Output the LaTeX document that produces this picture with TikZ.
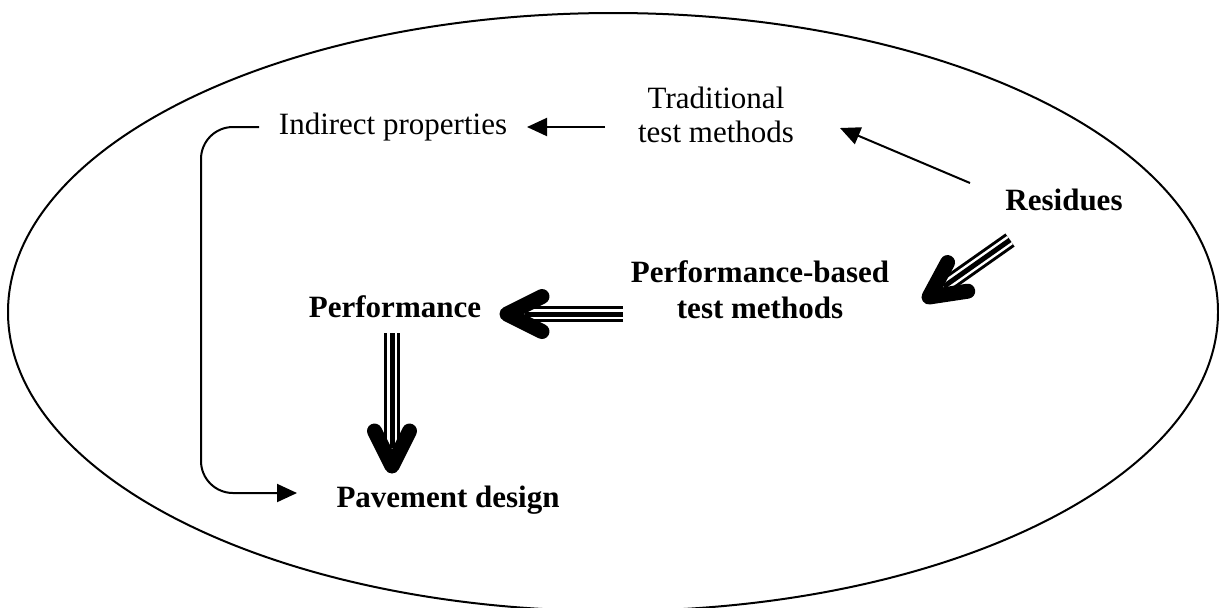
\documentclass[tikz,border=0pt]{standalone}
\usepackage{fontspec}
\setmainfont{Liberation Serif}
\usetikzlibrary{arrows.meta,calc}

\begin{document}
\begin{tikzpicture}[x=0.5pt,y=-0.5pt,>={Triangle[length=10pt,width=9pt]},line width=1pt]
              \tikzstyle{txt}=[align=center,inner sep=0pt,font=\fontsize{15.5}{17}\selectfont]
              \tikzstyle{bold}=[txt,font=\fontsize{15.5}{18}\selectfont\bfseries]
              \tikzstyle{shaft}=[line width=8pt]
              \tikzstyle{gap}=[line width=5pt,white]
              \tikzstyle{core}=[line width=2.5pt]
              \tikzstyle{head}=[line width=7.5pt,line cap=round,line join=round]

              \useasboundingbox (0,0) rectangle (1219,607);
              \clip (0,0) rectangle (1219,607);
              \draw (613,312) ellipse [x radius=302.5pt,y radius=149.5pt];

              \node[txt]  (trad) at (716,115) {Traditional\\test methods};
              \node[txt]  (ind)  at (393,127) {Indirect properties};
              \node[bold] (res)  at (1064,200) {Residues};
              \node[bold] (pbt)  at (760,290) {Performance-based\\test methods};
              \node[bold] (perf) at (395,307) {Performance};
              \node[bold] (pav)  at (448,500) {Pavement design};

              % thin connectors
              \draw[->] ($(trad)+(-111,12)$) -- ($(ind)+(134,0)$);
              \draw[->] ($(res)+(-94,-17)$) -- ($(trad)+(124,13)$);
              \draw[->,rounded corners=16pt] ($(ind)+(-134,0)$) -- ($(ind)+(-192,0)$)
                   -- ($(pav)+(-247,-7)$) -- ($(pav)+(-151,-7)$);

              % triple arrows
              \coordinate (res-out)  at ($(res)+(-54,40)$);
              \coordinate (pbt-in)   at ($(pbt)+(169,7)$);
              \coordinate (pbt-out)  at ($(pbt)+(-137,24)$);
              \coordinate (perf-in)  at ($(perf)+(112,7)$);
              \coordinate (perf-out) at ($(perf)+(-3,26)$);
              \coordinate (pav-in)   at ($(pav)+(-56,-34)$);
              \foreach \a/\b in {res-out/pbt-in,pbt-out/perf-in,perf-out/pav-in}{
                \draw[shaft] (\a) -- ($(\b)!9pt!(\a)$);
                \draw[gap]   (\a) -- ($(\b)!9pt!(\a)$);
                \draw[core]  (\a) -- ($(\b)!9pt!(\a)$);
                \draw[head]  ($(\b)!17.5pt!(\a)!8.75pt!90:(\b)$) -- (\b)
                             -- ($(\b)!17.5pt!(\a)!8.75pt!-90:(\b)$);
              }
\end{tikzpicture}
\end{document}
